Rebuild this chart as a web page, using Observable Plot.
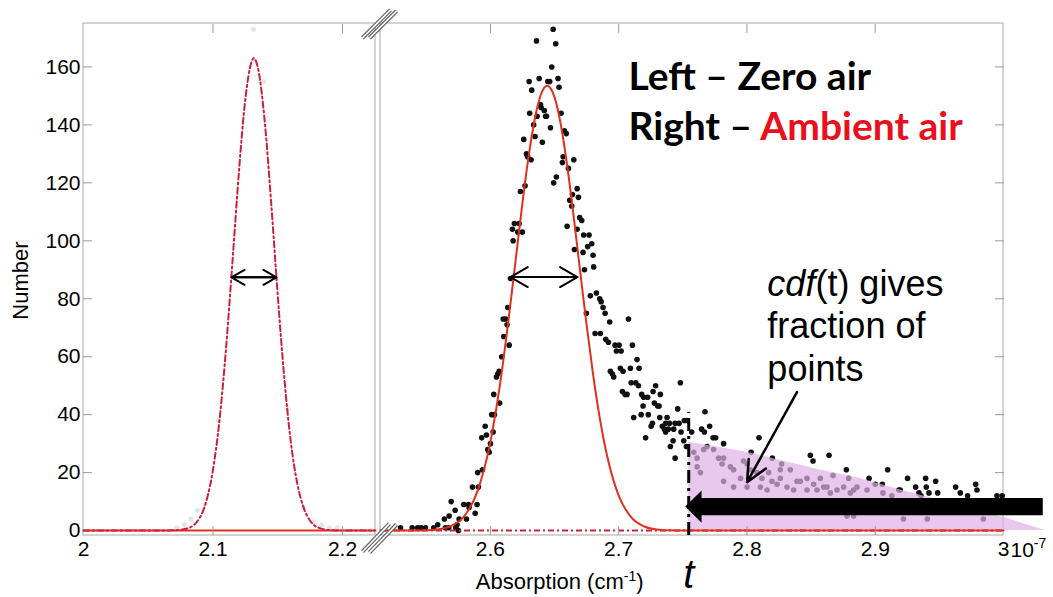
<!DOCTYPE html>
<html>
<head>
<meta charset="utf-8">
<script src="https://cdn.jsdelivr.net/npm/d3@7"></script>
<script src="https://cdn.jsdelivr.net/npm/@observablehq/plot@0.6"></script>
<style>
  body { margin: 0; background: #fff; }
</style>
</head>
<body>
<div id="chart"></div>
<script>
// ---- Data ---------------------------------------------------------------

// Gaussian fit to the zero-air histogram (left panel), absorption in 1e-7 cm^-1
const zeroFitX = [2.00, 2.06, 2.07, 2.08, 2.09, 2.095, 2.10, 2.105, 2.11, 2.115, 2.12, 2.125, 2.13, 2.1316, 2.135, 2.14, 2.145, 2.15, 2.155, 2.16, 2.165, 2.17, 2.175, 2.18, 2.19, 2.20, 2.2255];
const zeroFitY = [0, 0, 0.1, 0.7, 4.6, 10.4, 21, 38, 62.5, 92.5, 123.6, 149, 162, 163, 159, 141, 112.7, 81.3, 53, 31, 16.5, 7.9, 3.4, 1.3, 0.15, 0, 0];

// Zero-air histogram counts (faint)
const zeroX = [2.072, 2.078, 2.083, 2.088, 2.094, 2.170, 2.178, 2.184, 2.190, 2.196, 2.1313, 2.139, 2.104, 2.158];
const zeroY = [1, 2, 4, 7, 9, 8, 3, 2, 1, 1, 173, 155, 38, 42];

// Gaussian fit to the ambient-air histogram (right panel)
const ambientFitX = [2.5143, 2.54, 2.55, 2.56, 2.57, 2.58, 2.59, 2.60, 2.605, 2.61, 2.615, 2.62, 2.625, 2.63, 2.635, 2.64, 2.6443, 2.65, 2.655, 2.66, 2.665, 2.67, 2.675, 2.68, 2.685, 2.69, 2.695, 2.70, 2.71, 2.72, 2.73, 2.74, 2.75, 3.0];
const ambientFitY = [0, 0, 0.1, 0.45, 1.7, 5.2, 13.7, 30.7, 43.3, 58.5, 76, 94.6, 113.2, 129.8, 143, 151.2, 153.5, 149.5, 139.8, 125.4, 108, 89.3, 70.9, 54, 39.5, 27.7, 18.7, 12.1, 4.45, 1.4, 0.37, 0.08, 0, 0];

// Ambient-air histogram counts
const ambientX = [
  2.6489, 2.6359, 2.6509, 2.6478, 2.6302, 2.6380, 2.6447, 2.6462, 2.6527, 2.6535,
  2.6322, 2.6390, 2.6395, 2.6420, 2.6430, 2.6437, 2.6306, 2.6364, 2.6337, 2.6468,
  2.6551, 2.6577, 2.6592, 2.6348, 2.6260, 2.6405, 2.6281, 2.6291, 2.6317, 2.6567,
  2.6561, 2.6650, 2.6608, 2.6514, 2.6493, 2.6270, 2.6234, 2.6676, 2.6686, 2.6639,
  2.6618, 2.6634, 2.6696, 2.6712, 2.6598, 2.6676, 2.6187, 2.6224, 2.6171, 2.6213,
  2.6249, 2.6177, 2.6727, 2.6769, 2.6790, 2.6758, 2.6722, 2.6800, 2.6655, 2.6733,
  2.6805,
  2.6779, 2.6826, 2.6852, 2.6863, 2.6878, 2.6894, 2.6748, 2.6930, 2.7076, 2.6816,
  2.6857, 2.6899, 2.6920, 2.6972, 2.7003, 2.6982, 2.7019, 2.7107, 2.7143, 2.6935,
  2.6961, 2.6951, 2.7013, 2.7034, 2.7091, 2.7159, 2.7097, 2.7133, 2.7154, 2.7029,
  2.7050, 2.7065, 2.7179, 2.7195, 2.7226, 2.7288, 2.7268, 2.7325, 2.7190, 2.7278,
  2.7304, 2.7315, 2.7481, 2.7117, 2.7175, 2.7231, 2.7263, 2.7253, 2.7320, 2.7377,
  2.7366, 2.7397, 2.7440, 2.7471, 2.7512, 2.7533, 2.7460, 2.7673, 2.7340, 2.7356,
  2.7366, 2.7387, 2.7210, 2.7429, 2.7486, 2.7569, 2.7647, 2.7709, 2.7424, 2.7507,
  2.7528, 2.7668, 2.7736, 2.7756, 2.7818, 2.7403, 2.7440, 2.8032, 2.8094,
  2.8198, 2.8270, 2.8494, 2.8515, 2.8640, 2.8671, 2.8775, 2.8793,
  2.8952, 2.9097, 2.9055, 2.9252, 2.9393, 2.9471, 2.9487, 2.9315, 2.9341, 2.9419,
  2.9398, 2.9357, 2.9627, 2.9663, 2.9720, 2.9783, 2.9793, 2.9949, 2.9990, 2.9184,
  2.9195,
  2.6156, 2.6135, 2.6100, 2.6120, 2.6130, 2.6104, 2.6146, 2.6088, 2.6068, 2.6057,
  2.6047, 2.6026, 2.6072, 2.6010, 2.6031, 2.5959, 2.5969, 2.6021, 2.5932, 2.6000,
  2.5979, 2.5990, 2.5901, 2.5938, 2.5860, 2.5906, 2.5694, 2.5792, 2.5829, 2.5896,
  2.5834, 2.5725, 2.5678, 2.5641, 2.5881, 2.5756, 2.5813, 2.5589, 2.5558, 2.5730,
  2.5740, 2.5751,
  2.5299, 2.5390, 2.5433, 2.5460, 2.5493, 2.5649, 2.5675,
  2.7611, 2.7637, 2.7689, 2.7740, 2.7779, 2.7806, 2.7818, 2.7871, 2.7896, 2.7974,
  2.8001, 2.8026, 2.8078, 2.8117, 2.8169, 2.8195, 2.8235, 2.8260, 2.8312, 2.8364,
  2.8416, 2.8468, 2.8520, 2.8546, 2.8598, 2.8650, 2.8702, 2.8754, 2.8806, 2.8832,
  2.7950, 2.8001, 2.8105, 2.8157, 2.7818, 2.7896, 2.8260, 2.8338, 2.8390, 2.8468,
  2.8572, 2.8624, 2.8780, 2.8832, 2.7585, 2.7611, 2.7663, 2.8858, 2.8936, 2.9000,
  2.9060, 2.9130, 2.9220, 2.9406, 2.9843
];
const ambientY = [
  173, 169, 168, 160, 155, 156, 155, 155, 156, 153,
  152, 147, 146, 145, 143, 143, 144, 143, 140, 139,
  144, 138, 137, 136, 135, 134, 130, 129, 128, 129,
  127, 128, 125, 122, 120, 119, 117, 118, 115, 116,
  114, 112, 108, 107, 105, 104, 106, 106, 104, 103,
  103, 100, 102, 102, 99, 98, 96, 95, 97, 90,
  91,
  81, 82, 80, 79, 77, 75, 75, 72, 73, 68,
  68, 66, 65, 64, 64, 62, 62, 64, 59, 55,
  53, 54, 56, 55, 56, 56, 51, 51, 50, 48,
  47, 47, 47, 46, 46, 50, 48, 47, 43, 44,
  43, 43, 51, 39, 40, 40, 37, 36, 39, 39,
  37, 37, 37, 37, 38, 38, 42, 41, 36, 35,
  34, 35, 32, 35, 34, 34, 35, 36, 31, 31,
  29, 34, 32, 32, 30, 29, 25, 27, 32,
  25, 23, 26, 24, 26, 19, 21, 18,
  18, 21, 16, 18, 18, 17, 13, 15, 13, 13,
  15, 12, 15, 13, 12, 16, 14, 12, 12, 14,
  14,
  87, 77, 73, 73, 71, 67, 64, 60, 55, 54,
  53, 47, 44, 40, 40, 36, 33, 34, 32, 30,
  28, 27, 20, 21, 15, 15, 10, 9, 9, 9,
  8, 7, 5, 4, 6, 4, 4, 2, 1, 1,
  2, 0,
  1, 1, 1, 1, 1, 1, 1,
  22, 20, 29, 28, 25, 23, 25, 22, 21, 24,
  23, 21, 20, 18, 20, 17, 16, 18, 15, 14,
  17, 14, 16, 14, 15, 13, 14, 15, 13, 14,
  18, 15, 15, 14, 17, 15, 21, 21, 17, 18,
  18, 15, 5, 5, 27, 25, 28, 15, 14, 16,
  13, 12, 4, 4, 4
];

// Upper envelope of the shaded tail beyond the threshold t
const tailX = [2.7546, 2.8001, 2.8520, 2.8884, 2.9196, 3.0, 3.0326];
const tailTop = [30.5, 27, 21.4, 18, 14, 4.6, 0];

// Threshold t
const threshold = 2.7546;

// Axis ticks
const xTickLabels = [2, 2.1, 2.2, 2.6, 2.7, 2.8, 2.9, 3];
const xInnerTicks = [2.1, 2.2, 2.6, 2.7, 2.8, 2.9];
const yTicks = [0, 20, 40, 60, 80, 100, 120, 140, 160];

// Text
const legendLines = ["Left – Zero air", "Right – Ambient air"];
const noteLines = ["cdf(t) gives", "fraction of", "points"];
const xTitle = "Absorption (cm-1)";
const yTitle = "Number";
const exponentLabel = "10-7";

// ---- Layout helpers -------------------------------------------------------

// Broken x axis: left panel [2, 2.2255], right panel [2.5143, 3]
const xDomain = [2, 2.2255, 2.5143, 3];
const xRange = [83, 375, 380, 1003];
const yMin = -1.7, yMax = 175;
const panels = [{x1: 2, x2: 2.2255}, {x1: 2.5143, x2: 3}];

const zeroFit = zeroFitX.map((x, i) => ({x, y: zeroFitY[i]}));
const ambientFit = ambientFitX.map((x, i) => ({x, y: ambientFitY[i]}));
const zeroPts = zeroX.map((x, i) => ({x, y: zeroY[i]}));
const ambientPts = ambientX.map((x, i) => ({x, y: ambientY[i]}));
const tail = tailX.map((x, i) => ({x, y: tailTop[i]}));

// Thick left-pointing arrow along the tail
const arrowTip = 2.7523, arrowNeck = 2.7650, arrowEnd = 3.031, arrowMid = 8.1;
const arrowShape = [
  {x: arrowTip, y1: arrowMid, y2: arrowMid},
  {x: arrowNeck, y1: arrowMid - 5.6, y2: arrowMid + 5.6},
  {x: arrowNeck, y1: arrowMid - 3.0, y2: arrowMid + 3.0},
  {x: arrowEnd, y1: arrowMid - 3.0, y2: arrowMid + 3.0}
];

// Width markers at half height
const widthMarks = [{a: 2.1143, b: 2.1490, y: 87.4}, {a: 2.6156, b: 2.6678, y: 87.5}];

// Axis break slashes
const breakMarks = [
  {x1: 2.2154, y1: 170, x2: 2.5221, y2: 179.7},
  {x1: 2.2208, y1: 170, x2: 2.5268, y2: 179.3},
  {x1: 2.2154, y1: -7.3, x2: 2.5213, y2: 2.4},
  {x1: 2.2208, y1: -7.6, x2: 2.5268, y2: 2.1}
];

const red = "#e0301e";
const crimson = "#cc1f3a";
const dashDot = "6,3,2,3";

const chart = Plot.plot({
  width: 1053,
  height: 597,
  marginLeft: 83,
  marginRight: 50,
  marginTop: 23,
  marginBottom: 62,
  style: {fontFamily: "'Liberation Sans', Arial, sans-serif", fontSize: "21px", color: "#000", background: "#fff"},
  x: {type: "linear", domain: xDomain, range: xRange},
  y: {domain: [yMin, yMax]},
  marks: [
    Plot.rect(panels, {x1: "x1", x2: "x2", y1: yMin, y2: yMax, fill: "none", stroke: "#a8a8a8", strokeWidth: 1}),

    // histogram points
    Plot.dot(zeroPts, {x: "x", y: "y", r: 2.5, fill: "#e4e4e4", stroke: "none"}),
    Plot.dot(ambientPts, {x: "x", y: "y", r: 2.8, fill: "#111", stroke: "none"}),

    // shaded tail above t
    Plot.areaY(tail, {x: "x", y1: 0, y2: "y", fill: "#deb0e4", fillOpacity: 0.7}),

    // fit tails running across the other panel
    Plot.ruleY([0], {x1: 2, x2: 2.2255, stroke: red, strokeWidth: 2}),
    Plot.ruleY([0], {x1: 2.5143, x2: 3, stroke: crimson, strokeWidth: 2, strokeDasharray: dashDot}),

    // fits
    Plot.line(zeroFit, {x: "x", y: "y", curve: "monotone-x", stroke: crimson, strokeWidth: 2, strokeDasharray: dashDot}),
    Plot.line(ambientFit, {x: "x", y: "y", curve: "monotone-x", stroke: red, strokeWidth: 2}),

    // threshold line
    Plot.ruleX([threshold], {y1: yMin, y2: 48, insetBottom: -21, stroke: "#000", strokeWidth: 3, strokeDasharray: "13,5,3,5"}),

    // thick arrow
    Plot.areaY(arrowShape, {x: "x", y1: "y1", y2: "y2", fill: "#000"}),

    // half-height width markers
    Plot.arrow(widthMarks, {x1: "a", x2: "b", y1: "y", y2: "y", stroke: "#000", strokeWidth: 2, headLength: 15, headAngle: 60}),
    Plot.arrow(widthMarks, {x1: "b", x2: "a", y1: "y", y2: "y", stroke: "#000", strokeWidth: 2, headLength: 15, headAngle: 60}),

    // pointer from the note to the shaded area
    Plot.arrow([0], {x1: 2.8390, y1: 47.8, x2: 2.8001, y2: 16.7, stroke: "#000", strokeWidth: 2.5, headLength: 14, headAngle: 50}),

    // axis break slashes
    Plot.link(breakMarks, {x1: "x1", y1: "y1", x2: "x2", y2: "y2", stroke: "#666", strokeWidth: 4}),
    Plot.link(breakMarks, {x1: "x1", y1: "y1", x2: "x2", y2: "y2", stroke: "#fff", strokeWidth: 1.6}),

    // axes
    Plot.axisX({anchor: "bottom", ticks: xTickLabels, tickSize: 0, tickPadding: 6, tickFormat: d => `${d}`, label: null, fontSize: 21}),
    Plot.axisX({anchor: "bottom", ticks: xInnerTicks, tickSize: -9, fill: "none", stroke: "#999", label: null}),
    Plot.axisX({anchor: "top", ticks: xInnerTicks, tickSize: -9, fill: "none", stroke: "#999", label: null}),
    Plot.axisY({anchor: "left", ticks: yTicks, tickSize: 0, tickPadding: 3, label: null, fontSize: 21}),
    Plot.axisY({anchor: "left", ticks: yTicks.slice(1), tickSize: -9, fill: "none", stroke: "#999", label: null}),
    Plot.axisY({anchor: "right", ticks: yTicks.slice(1), tickSize: -9, fill: "none", stroke: "#999", label: null}),

    // axis titles
    Plot.text([yTitle], {text: d => d, frameAnchor: "left", dx: -56, dy: 1, rotate: -90, fontSize: 22, textAnchor: "middle", lineAnchor: "bottom"}),
    Plot.text([xTitle], {text: d => d, x: 2.654, frameAnchor: "bottom", dy: 53, fontSize: 22, textAnchor: "middle", lineAnchor: "bottom"}),
    Plot.text([exponentLabel], {text: d => d, frameAnchor: "bottom-right", dx: 7, dy: 21, textAnchor: "start", lineAnchor: "bottom", fontSize: 21}),

    // threshold label
    Plot.text([threshold], {x: d => d, text: () => "t", frameAnchor: "bottom", dy: 52, fontSize: 40, fontStyle: "italic", lineAnchor: "bottom"}),

    // legend
    Plot.text([legendLines[0]], {text: d => d, x: 2.7076, y: 152, textAnchor: "start", lineAnchor: "bottom", fontFamily: "Lato, 'Open Sans', sans-serif", fontWeight: "bold", fontSize: 39}),
    Plot.text([legendLines[1]], {text: d => d, x: 2.7076, y: 134.8, textAnchor: "start", lineAnchor: "bottom", fontFamily: "Lato, 'Open Sans', sans-serif", fontWeight: "bold", fontSize: 39}),

    // note
    Plot.text([noteLines[0]], {text: d => d, x: 2.8159, y: 80.9, textAnchor: "start", lineAnchor: "bottom", fontSize: 36}),
    Plot.text([noteLines[1]], {text: d => d, x: 2.8159, y: 66.3, textAnchor: "start", lineAnchor: "bottom", fontSize: 36}),
    Plot.text([noteLines[2]], {text: d => d, x: 2.8159, y: 51.5, textAnchor: "start", lineAnchor: "bottom", fontSize: 36})
  ]
});

// Rich text: colour, italics and superscripts
d3.select(chart).selectAll("text").each(function () {
  const s = this.textContent;
  const el = d3.select(this);
  if (s === legendLines[1]) {
    el.text(null);
    el.append("tspan").text("Right – ");
    el.append("tspan").attr("fill", "#e8101c").text("Ambient air");
  } else if (s === noteLines[0]) {
    el.text(null);
    el.append("tspan").attr("font-style", "italic").text("cdf");
    el.append("tspan").text("(t) gives");
  } else if (s === xTitle) {
    el.text(null);
    el.append("tspan").text("Absorption (cm");
    el.append("tspan").attr("font-size", 14).attr("dy", -8).text("-1");
    el.append("tspan").attr("dy", 8).text(")");
  } else if (s === exponentLabel) {
    el.text(null);
    el.append("tspan").text("10");
    el.append("tspan").attr("font-size", 14).attr("dy", -9).text("-7");
  }
});

document.getElementById("chart").append(chart);
</script>
</body>
</html>
